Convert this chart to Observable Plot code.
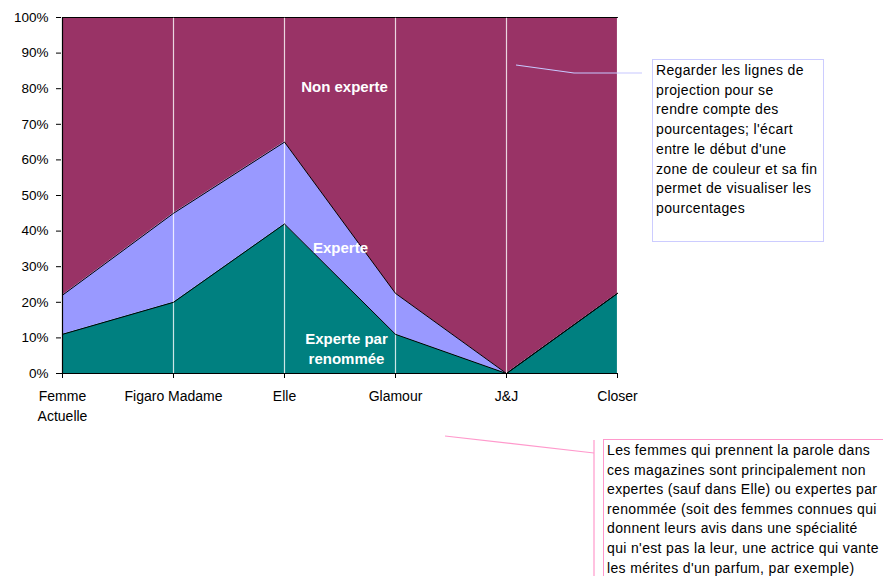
<!DOCTYPE html>
<html>
<head>
<meta charset="utf-8">
<script src="https://cdn.jsdelivr.net/npm/d3@7"></script>
<script src="https://cdn.jsdelivr.net/npm/@observablehq/plot@0.6"></script>
<style>
  body { margin: 0; background: #fff; font-family: "Liberation Sans", Arial, sans-serif; }
  #wrap { position: relative; width: 883px; height: 576px; overflow: hidden; }
  #chart { position: absolute; left: 0; top: 0; }
  .note { position: absolute; font-family: "Liberation Sans", Arial, sans-serif; font-size: 14px; letter-spacing: 0.35px; color: #000; box-sizing: border-box; white-space: nowrap; }
  #note1 { left: 652px; top: 59px; width: 172px; height: 183px; border: 1px solid #ccccff; padding: 1px 0 0 3px; line-height: 19.7px; }
  #note2 { left: 603px; top: 439px; width: 300px; height: 160px; border: 1px solid #ff99cc; padding: 1px 0 0 3px; line-height: 19.6px; }
  #over { position: absolute; left: 0; top: 0; pointer-events: none; }
</style>
</head>
<body>
<div id="wrap">
  <div id="chart"></div>
  <svg id="over" width="883" height="576">
    <polyline points="516,65 574,73 642,73" fill="none" stroke="#c8c8ff" stroke-width="1.2"/>
    <polyline points="445,436 594,453" fill="none" stroke="#ff99cc" stroke-width="1.2"/>
    <line x1="594" y1="440" x2="594" y2="576" stroke="#ff99cc" stroke-width="1.2"/>
  </svg>
  <div class="note" id="note1">Regarder les lignes de<br>projection pour se<br>rendre compte des<br>pourcentages; l'écart<br>entre le début d'une<br>zone de couleur et sa fin<br>permet de visualiser les<br>pourcentages</div>
  <div class="note" id="note2">Les femmes qui prennent la parole dans<br>ces magazines sont principalement non<br>expertes (sauf dans Elle) ou expertes par<br>renommée (soit des femmes connues qui<br>donnent leurs avis dans une spécialité<br>qui n'est pas la leur, une actrice qui vante<br>les mérites d'un parfum, par exemple)</div>
</div>
<script>
const categories = ["Femme Actuelle", "Figaro Madame", "Elle", "Glamour", "J&J", "Closer"];
const categoryLabels = ["Femme\nActuelle", "Figaro Madame", "Elle", "Glamour", "J&J", "Closer"];
const seriesNames = ["Experte par renommée", "Experte", "Non experte"];
const renommee = [11, 20, 42, 11, 0, 22.5];
const experte = [11, 25, 23, 11.5, 0, 0];
const nonExperte = [78, 55, 35, 77.5, 100, 77.5];
const seriesColors = ["#008080", "#9999ff", "#993366"];
const yTicks = [0, 10, 20, 30, 40, 50, 60, 70, 80, 90, 100];

const seriesValues = [renommee, experte, nonExperte];
const rows = [];
seriesNames.forEach((s, i) => categories.forEach((c, j) => rows.push({cat: c, series: s, value: seriesValues[i][j]})));

const labelMap = new Map(categories.map((c, i) => [c, categoryLabels[i]]));

const chart = Plot.plot({
  width: 883,
  height: 576,
  marginLeft: 61,
  marginRight: 265,
  marginTop: 17,
  marginBottom: 203,
  style: {fontFamily: "'Liberation Sans', Arial, sans-serif", fontSize: "14px", color: "#000", background: "transparent"},
  x: {type: "point", domain: categories, padding: 0},
  y: {domain: [0, 100]},
  color: {domain: seriesNames, range: seriesColors},
  marks: [
    Plot.areaY(rows, {x: "cat", y: "value", fill: "series", z: "series"}),
    Plot.ruleX(categories.slice(1), {stroke: "#ffffff", strokeOpacity: 0.8, strokeWidth: 1.2}),
    Plot.lineY(rows, Plot.stackY2({x: "cat", y: "value", z: "series", stroke: "#000", strokeWidth: 1})),
    Plot.ruleX([categories[0]], {stroke: "#000", strokeWidth: 1.2}),
    Plot.ruleY([0], {stroke: "#000", strokeWidth: 1.2}),
    Plot.axisY({ticks: yTicks, tickFormat: d => d + "%", tickSize: 5, tickPadding: 8, label: null, stroke: "#000", fontSize: 13.5, letterSpacing: "0.2px"}),
    Plot.axisX({tickFormat: d => labelMap.get(d), tickSize: 5, tickPadding: 8, label: null, lineHeight: 1.45, stroke: "#000", letterSpacing: "0.4px"}),
    Plot.text([{cat: "Elle", y: 80.3, t: "Non experte"}], {x: "cat", y: "y", text: "t", dx: 60, fill: "#fff", fontWeight: "bold", fontSize: 15, letterSpacing: "0.5px"}),
    Plot.text([{cat: "Elle", y: 35.3, t: "Experte"}], {x: "cat", y: "y", text: "t", dx: 56, fill: "#fff", fontWeight: "bold", fontSize: 15, letterSpacing: "0.2px"}),
    Plot.text([{cat: "Elle", y: 7.3, t: "Experte par\nrenommée"}], {x: "cat", y: "y", text: "t", dx: 62, fill: "#fff", fontWeight: "bold", fontSize: 15, lineHeight: 1.35, letterSpacing: "0.5px"})
  ]
});
document.getElementById("chart").appendChild(chart);
</script>
</body>
</html>
